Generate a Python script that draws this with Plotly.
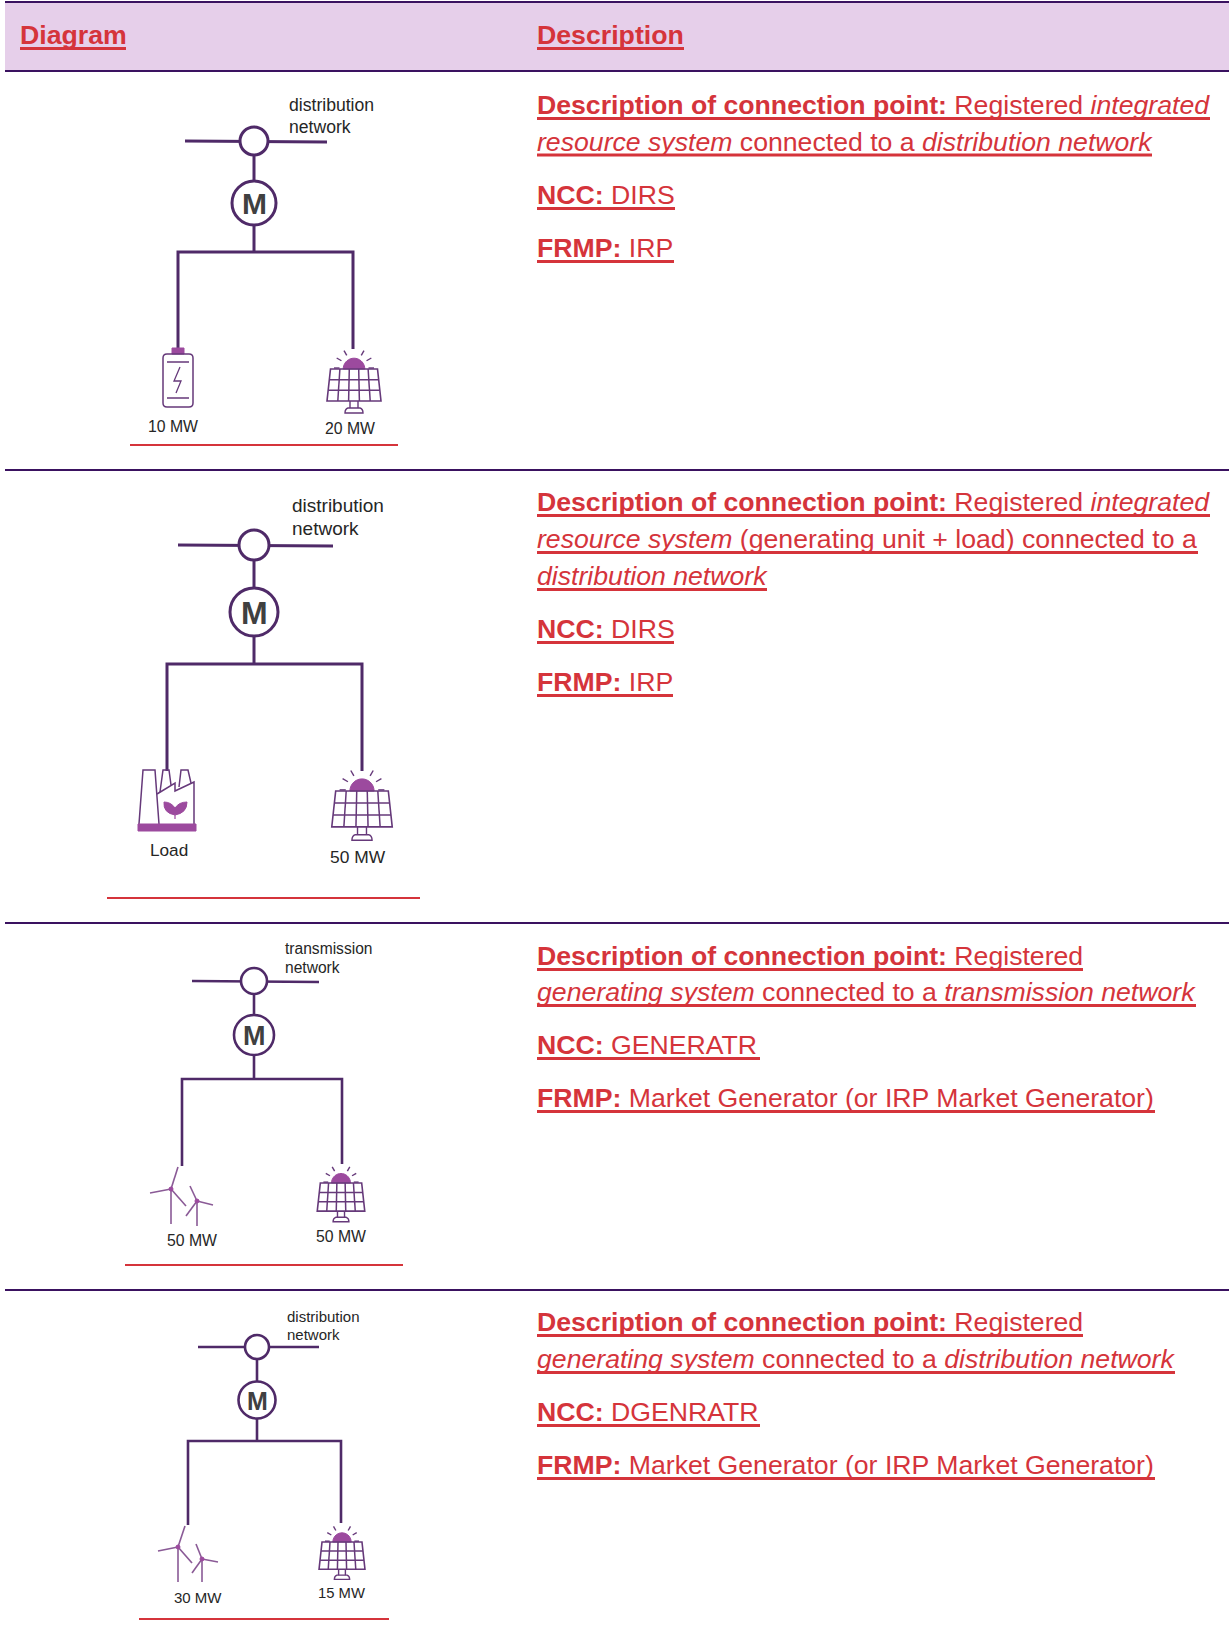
import math
import plotly.graph_objects as go

W, H = 1229, 1639
RED = "#D5343B"; DARK = "#3A1260"; WIRE = "#4F2A68"; ICON = "#66397A"; FILL = "#9C4A9E"; BAND = "#E6CFEA"; INK = "#262626"
FONT = "Liberation Sans, Arial, sans-serif"

header_labels = ["Diagram", "Description"]
header_x = [20, 537]
header_ends = [126, 684]
rule_y = [2, 71, 470, 923, 1290]

desc_text = [
    "<b>Description of connection point:</b> Registered <i>integrated</i>",
    "<i>resource system</i> connected to a <i>distribution network</i>",
    "<b>NCC:</b> DIRS",
    "<b>FRMP:</b> IRP",
    "<b>Description of connection point:</b> Registered <i>integrated</i>",
    "<i>resource system</i> (generating unit + load) connected to a",
    "<i>distribution network</i>",
    "<b>NCC:</b> DIRS",
    "<b>FRMP:</b> IRP",
    "<b>Description of connection point:</b> Registered",
    "<i>generating system</i> connected to a <i>transmission network</i>",
    "<b>NCC:</b> GENERATR",
    "<b>FRMP:</b> Market Generator (or IRP Market Generator)",
    "<b>Description of connection point:</b> Registered",
    "<i>generating system</i> connected to a <i>distribution network</i>",
    "<b>NCC:</b> DGENRATR",
    "<b>FRMP:</b> Market Generator (or IRP Market Generator)",
]
desc_y = [105, 141.5, 195, 248, 502, 539, 576, 629, 682, 956, 992, 1045, 1098, 1322, 1359, 1412, 1465]
desc_end = [1210, 1152, 675, 674, 1210, 1198, 767, 674, 673, 1083, 1196, 760, 1155, 1083, 1175, 760, 1155]

# one entry per diagram
net_names = ["distribution", "distribution", "transmission", "distribution"]
net_x = [289, 292, 285, 287]
net_y = [(105, 127), (505.5, 528), (948, 967), (1316, 1334)]
net_size = [17.6, 19, 15.6, 15]
bus_left = [(185, 141), (178, 545), (192, 981), (198, 1347)]
bus_right = [(327, 142), (333, 546), (319, 982), (319, 1347)]
node_x = [254, 254, 254, 257]
node_y = [141, 545, 981, 1347]
node_r = [14, 15, 13, 12]
motor_y = [203, 612, 1035, 1400]
motor_r = [22, 24, 20, 18.5]
motor_size = [30, 32, 27, 25]
bar_y = [252, 664, 1079, 1441]
wire_w = [3, 3, 2.6, 2.6]
left_x = [178, 167, 182, 188]
left_end = [349, 771, 1166, 1525]
right_x = [353, 362, 342, 341]
right_end = [349, 771, 1164, 1523]
solar_x = [354, 362, 341, 342]
solar_top = [369, 791, 1183, 1542]
solar_s = [1.0, 1.12, 0.88, 0.85]
left_label = ["10 MW", "Load", "50 MW", "30 MW"]
left_label_pos = [(173, 426.5), (169, 850), (192, 1240), (198, 1597)]
left_label_size = [15.8, 17.2, 15.8, 15]
right_label = ["20 MW", "50 MW", "50 MW", "15 MW"]
right_label_pos = [(350, 428.5), (358, 857), (341, 1236.5), (341, 1593)]
right_label_size = [15.8, 17.4, 15.8, 14.8]
red_x = [(130, 398), (107, 420), (125, 403), (139, 389)]
red_y = [445, 898, 1265, 1619]

# wind turbines: hub, tower foot, three blade tips
turbines = [
    ((171, 1189), 1224, [(178, 1167), (150, 1193), (186, 1206)]),
    ((197, 1201), 1226, [(190, 1186), (213, 1205), (186, 1216)]),
    ((178, 1547), 1582, [(185, 1526), (158, 1551), (192, 1563)]),
    ((202, 1559), 1582, [(196, 1544), (218, 1562), (192, 1573)]),
]

fig = go.Figure()
shapes, notes = [], []

def seg(xs, ys, color=WIRE, w=2.5):
    fig.add_trace(go.Scatter(x=list(xs), y=list(ys), mode="lines", hoverinfo="skip", showlegend=False,
                             line=dict(color=color, width=w, shape="linear")))

def path(d, line=ICON, w=1.5, fill=None, layer="above"):
    s = dict(type="path", path=d, xref="x", yref="y", layer=layer, line=dict(color=line, width=w))
    if fill:
        s["fillcolor"] = fill
    shapes.append(s)

def circle(cx, cy, r, color=WIRE, w=2.5, fill="white"):
    shapes.append(dict(type="circle", xref="x", yref="y", x0=cx - r, x1=cx + r, y0=cy - r, y1=cy + r,
                       fillcolor=fill, line=dict(color=color, width=w), layer="above"))

def text(x, y, t, size, color=INK, anchor="left"):
    notes.append(dict(x=x - 1 if anchor == "left" else x, y=y, text=t, xref="x", yref="y", showarrow=False,
                      xanchor=anchor, yanchor="middle", align="left", borderpad=0,
                      font=dict(family=FONT, size=size, color=color)))

def hrule(x0, x1, y, color, w):
    shapes.append(dict(type="line", xref="x", yref="y", x0=x0, x1=x1, y0=y, y1=y, line=dict(color=color, width=w), layer="above"))

def solar(cx, top, s):
    rays = [0, 30, 60, 120, 150, 180]
    for a in rays:
        c, sn = math.cos(math.radians(a)), math.sin(math.radians(a))
        path(f"M{cx + 14.5*s*c},{top - 1*s - 14.5*s*sn} L{cx + 20*s*c},{top - 1*s - 20*s*sn}", line=ICON, w=1.4)
    r = 10.8 * s
    pts = " ".join(f"L{cx + r*math.cos(math.radians(a))},{top - r*math.sin(math.radians(a))}" for a in range(180, -1, -10))
    path(f"M{cx - r},{top} {pts} Z", line=FILL, w=1, fill=FILL)
    ht, hb, h = 23.5 * s, 27 * s, 32 * s
    path(f"M{cx-ht},{top} L{cx+ht},{top} L{cx+hb},{top+h} L{cx-hb},{top+h} Z", w=1.6)
    for i in range(1, 5):
        f = i / 5
        path(f"M{cx-ht+2*ht*f},{top} L{cx-hb+2*hb*f},{top+h}", w=1.5)
    for j in (1, 2):
        f = j / 3; hw = ht + (hb - ht) * f
        path(f"M{cx-hw},{top+h*f} L{cx+hw},{top+h*f}", w=1.5)
    path(f"M{cx-4*s},{top+h} L{cx-4*s},{top+h+7*s} M{cx+4*s},{top+h} L{cx+4*s},{top+h+7*s}", w=1.4)
    path(f"M{cx-6*s},{top+h+7*s} L{cx+6*s},{top+h+7*s} Q{cx+9*s},{top+h+8*s} {cx+9*s},{top+h+12*s} "
         f"L{cx-9*s},{top+h+12*s} Q{cx-9*s},{top+h+8*s} {cx-6*s},{top+h+7*s} Z", w=1.4)

def battery():
    path("M172,348 L184,348 L184,354 L172,354 Z", line=FILL, w=1, fill=FILL)
    path("M167,354 L189,354 Q193,354 193,358 L193,403 Q193,407 189,407 L167,407 Q163,407 163,403 L163,358 Q163,354 167,354 Z")
    path("M167,362 L189,362 M167,398 L189,398")
    path("M180,367 L174,381 L181,381 L176,393", w=1.3)

def factory():
    path("M139,824 L143,770 L155,770 L159,824")
    path("M160,792 L163,770 L169,770 L171,785")
    path("M179,787 L181,770 L188,770 L191,783")
    path("M157,794 L175,783 L175,791 L194,782 L194,824")
    path("M138,824 L196,824 L196,831 L138,831 Z", line=FILL, w=1, fill=FILL)
    path("M175,815 Q163,813 164,802 Q171,802 175,808 Q179,802 187,802 Q187,813 175,815 Z", line=FILL, w=1, fill=FILL)
    path("M175,815 L175,819", line=FILL, w=1.2)

def turbine(hub, foot, tips):
    hx, hy = hub
    path(f"M{hx},{hy} L{hx},{foot}", line="#8A5A96", w=1.6)
    for tx, ty in tips:
        path(f"M{hx},{hy} L{tx},{ty}", line="#8A5A96", w=1.6)
    circle(hx, hy, 2, color=FILL, w=1, fill=FILL)

# header band and rules
shapes.append(dict(type="rect", xref="x", yref="y", x0=5, x1=W, y0=rule_y[0], y1=rule_y[1], fillcolor=BAND, line=dict(width=0), layer="below"))
for i, y in enumerate(rule_y):
    hrule(5, W, y, DARK, 2.2 if i < 2 else 2)
for lab, x, e in zip(header_labels, header_x, header_ends):
    text(x, 35, f"<b>{lab}</b>", 26.7, RED)
    hrule(x, e, 48.5, RED, 3)

# description column
for t, y, e in zip(desc_text, desc_y, desc_end):
    text(537, y, t, 26.65, RED)
    hrule(537, e, y + 13.5, RED, 2.8)

# diagrams
for i in range(4):
    w = wire_w[i]
    seg([bus_left[i][0], bus_right[i][0]], [bus_left[i][1], bus_right[i][1]], w=w)
    seg([node_x[i], node_x[i]], [node_y[i], bar_y[i]], w=w)
    seg([left_x[i], left_x[i], right_x[i], right_x[i]], [left_end[i], bar_y[i], bar_y[i], right_end[i]], w=w)
    circle(node_x[i], node_y[i], node_r[i], w=w)
    circle(node_x[i], motor_y[i], motor_r[i], w=w)
    text(node_x[i], motor_y[i] + 0.5, "<b>M</b>", motor_size[i], "#404040", "center")
    text(net_x[i], net_y[i][0], net_names[i], net_size[i])
    text(net_x[i], net_y[i][1], "network", net_size[i])
    solar(solar_x[i], solar_top[i], solar_s[i])
    text(left_label_pos[i][0], left_label_pos[i][1], left_label[i], left_label_size[i], anchor="center")
    text(right_label_pos[i][0], right_label_pos[i][1], right_label[i], right_label_size[i], anchor="center")
    hrule(red_x[i][0], red_x[i][1], red_y[i], RED, 2)

battery()
factory()
for hub, foot, tips in turbines:
    turbine(hub, foot, tips)

fig.update_layout(
    width=W, height=H, margin=dict(l=0, r=0, t=0, b=0), paper_bgcolor="white", plot_bgcolor="white",
    xaxis=dict(range=[0, W], visible=False, fixedrange=True),
    yaxis=dict(range=[H, 0], visible=False, fixedrange=True),
    shapes=shapes, annotations=notes, showlegend=False,
)
fig.write_html("out.html", config=dict(displayModeBar=False),
               post_script="document.body.style.margin='0';document.documentElement.style.overflow='hidden';")
